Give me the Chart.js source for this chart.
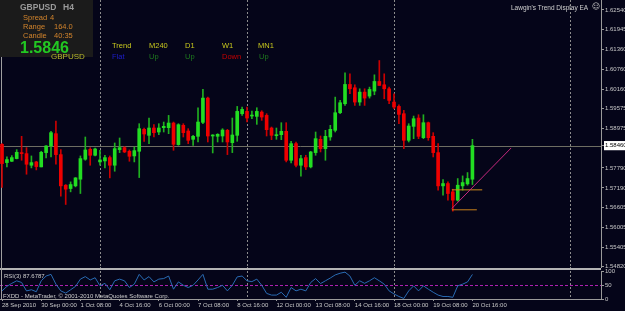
<!DOCTYPE html>
<html>
<head>
<meta charset="utf-8">
<script src="https://cdn.jsdelivr.net/npm/chart.js@4.4.0/dist/chart.umd.min.js"></script>
<style>
  html, body { margin: 0; padding: 0; background: #050519; }
  #wrap { position: relative; width: 625px; height: 311px; overflow: hidden; font-family: "Liberation Sans", Arial, sans-serif; }
  canvas { position: absolute; left: 0; }
  #main { top: 0; }
  #rsi { top: 267px; }
  .t { position: absolute; white-space: pre; line-height: 1; }
  .box { position: absolute; left: 0; top: 0; width: 93px; height: 57px; background: #1b1b1b; }
</style>
</head>
<body>
<div id="wrap">
  <canvas id="main" width="625" height="276"></canvas>
  <canvas id="rsi" width="625" height="44"></canvas>

  <div class="box"></div>
  <div class="t" style="left:20px;top:3px;font-weight:bold;font-size:8.5px;color:#9a9a9a">GBPUSD</div>
  <div class="t" style="left:63px;top:3px;font-weight:bold;font-size:8.5px;color:#9a9a9a">H4</div>
  <div class="t" style="left:23px;top:13.5px;font-size:7.5px;color:#d2842c">Spread</div>
  <div class="t" style="left:50px;top:13.5px;font-size:7.5px;color:#d2842c">4</div>
  <div class="t" style="left:23px;top:23px;font-size:7.5px;color:#d2842c">Range</div>
  <div class="t" style="left:54px;top:23px;font-size:7.5px;color:#d2842c">164.0</div>
  <div class="t" style="left:23px;top:32px;font-size:7.5px;color:#d2842c">Candle</div>
  <div class="t" style="left:54px;top:32px;font-size:7.5px;color:#d2842c">40:35</div>
  <div class="t" style="left:20px;top:39.5px;font-weight:bold;font-size:16px;color:#22c822">1.5846</div>
  <div class="t" style="left:51px;top:52.5px;font-size:8px;color:#b8b82a">GBPUSD</div>

  <div class="t" style="left:112px;top:42px;font-size:7.5px;color:#c8c81e">Trend</div>
  <div class="t" style="left:112px;top:52.5px;font-size:7.5px;color:#1e1ecc">Flat</div>
  <div class="t" style="left:149px;top:42px;font-size:7.5px;color:#c8c81e">M240</div>
  <div class="t" style="left:149px;top:52.5px;font-size:7.5px;color:#1e7a1e">Up</div>
  <div class="t" style="left:185px;top:42px;font-size:7.5px;color:#c8c81e">D1</div>
  <div class="t" style="left:185px;top:52.5px;font-size:7.5px;color:#1e7a1e">Up</div>
  <div class="t" style="left:222px;top:42px;font-size:7.5px;color:#c8c81e">W1</div>
  <div class="t" style="left:222px;top:52.5px;font-size:7.5px;color:#c80000">Down</div>
  <div class="t" style="left:258px;top:42px;font-size:7.5px;color:#c8c81e">MN1</div>
  <div class="t" style="left:259px;top:52.5px;font-size:7.5px;color:#1e7a1e">Up</div>

  <div class="t" style="left:511px;top:4.5px;font-size:6.5px;color:#cfcfcf">Lawgin's Trend Display EA</div>
  <div class="t" style="left:592px;top:3px;font-size:8px;color:#cfcfcf;font-family:'DejaVu Sans'">☺</div>

  <div class="t" style="left:4px;top:272.5px;font-size:6px;color:#cfcfcf">RSI(3) 87.6787</div>
  <div class="t" style="left:3px;top:293px;font-size:6px;color:#cfcfcf">FXDD - MetaTrader, © 2001-2010 MetaQuotes Software Corp.</div>
</div>

<script>
// GBPUSD H4, 28 Sep 16:00 .. 20 Oct 16:00 (bar index 0..96)
const OPEN = [
  1.5850, 1.5795, 1.5799, 1.5807, 1.5825, 1.5822, 1.5787, 1.5797, 1.5782, 1.5825,
  1.5845, 1.5882, 1.5819, 1.5727, 1.5717, 1.5725, 1.5745, 1.5805, 1.5835, 1.5817,
  1.5797, 1.5800, 1.5810, 1.5787, 1.5834, 1.5840, 1.5829, 1.5815, 1.5829, 1.5895,
  1.5877, 1.5899, 1.5887, 1.5900, 1.5900, 1.5914, 1.5849, 1.5907, 1.5890, 1.5865,
  1.5874, 1.5916, 1.5989, 1.5875, 1.5874, 1.5875, 1.5892, 1.5855, 1.5877, 1.5942,
  1.5949, 1.5935, 1.5934, 1.5947, 1.5937, 1.5899, 1.5876, 1.5879, 1.5889, 1.5802,
  1.5852, 1.5787, 1.5810, 1.5782, 1.5825, 1.5865, 1.5837, 1.5872, 1.5892, 1.5945,
  1.5972, 1.6030, 1.6020, 1.5977, 1.6007, 1.5995, 1.6010, 1.6039, 1.6029, 1.6017,
  1.5977, 1.5964, 1.5942, 1.5862, 1.5904, 1.5929, 1.5870, 1.5915, 1.5874, 1.5825,
  1.5725, 1.5732, 1.5707, 1.5682, 1.5725, 1.5731, 1.5745
];
const HIGH = [
  1.5852, 1.5812, 1.5816, 1.5834, 1.5874, 1.5840, 1.5815, 1.5799, 1.5829, 1.5846,
  1.5889, 1.5920, 1.5834, 1.5729, 1.5737, 1.5750, 1.5815, 1.5872, 1.5840, 1.5839,
  1.5832, 1.5817, 1.5815, 1.5854, 1.5869, 1.5843, 1.5833, 1.5842, 1.5912, 1.5899,
  1.5929, 1.5909, 1.5912, 1.5917, 1.5937, 1.5917, 1.5912, 1.5912, 1.5897, 1.5877,
  1.5960, 1.6015, 1.5992, 1.5879, 1.5882, 1.5897, 1.5895, 1.5929, 1.5964, 1.5962,
  1.5962, 1.5950, 1.5960, 1.5951, 1.5942, 1.5902, 1.5899, 1.5915, 1.5915, 1.5859,
  1.5857, 1.5817, 1.5817, 1.5829, 1.5887, 1.5875, 1.5892, 1.5907, 1.5992, 1.5982,
  1.6065, 1.6062, 1.6029, 1.6017, 1.6017, 1.6022, 1.6059, 1.6102, 1.6062, 1.6022,
  1.6002, 1.5969, 1.5952, 1.5912, 1.5935, 1.5939, 1.5939, 1.5917, 1.5885, 1.5852,
  1.5744, 1.5737, 1.5715, 1.5747, 1.5755, 1.5765, 1.5865
];
const LOW = [
  1.5720, 1.5782, 1.5798, 1.5806, 1.5802, 1.5760, 1.5779, 1.5773, 1.5782, 1.5809,
  1.5812, 1.5790, 1.5694, 1.5669, 1.5707, 1.5722, 1.5702, 1.5802, 1.5787, 1.5815,
  1.5787, 1.5779, 1.5749, 1.5769, 1.5825, 1.5825, 1.5799, 1.5797, 1.5750, 1.5859,
  1.5852, 1.5872, 1.5879, 1.5887, 1.5882, 1.5832, 1.5847, 1.5872, 1.5852, 1.5847,
  1.5857, 1.5912, 1.5857, 1.5824, 1.5857, 1.5857, 1.5819, 1.5825, 1.5859, 1.5937,
  1.5917, 1.5927, 1.5910, 1.5922, 1.5875, 1.5864, 1.5865, 1.5864, 1.5797, 1.5794,
  1.5782, 1.5754, 1.5774, 1.5779, 1.5817, 1.5827, 1.5802, 1.5862, 1.5887, 1.5942,
  1.5967, 1.6002, 1.5967, 1.5967, 1.5967, 1.5989, 1.5999, 1.6027, 1.5987, 1.5972,
  1.5957, 1.5912, 1.5837, 1.5857, 1.5867, 1.5867, 1.5867, 1.5862, 1.5812, 1.5712,
  1.5697, 1.5682, 1.5649, 1.5679, 1.5712, 1.5727, 1.5729
];
const CLOSE = [
  1.5792, 1.5804, 1.5810, 1.5826, 1.5822, 1.5790, 1.5795, 1.5783, 1.5826, 1.5845,
  1.5885, 1.5819, 1.5725, 1.5715, 1.5729, 1.5749, 1.5807, 1.5833, 1.5817, 1.5836,
  1.5803, 1.5810, 1.5787, 1.5837, 1.5840, 1.5827, 1.5814, 1.5831, 1.5897, 1.5881,
  1.5899, 1.5885, 1.5899, 1.5904, 1.5914, 1.5850, 1.5909, 1.5885, 1.5862, 1.5874,
  1.5917, 1.5989, 1.5875, 1.5876, 1.5880, 1.5893, 1.5857, 1.5878, 1.5949, 1.5955,
  1.5929, 1.5936, 1.5949, 1.5932, 1.5894, 1.5877, 1.5878, 1.5889, 1.5802, 1.5852,
  1.5787, 1.5807, 1.5782, 1.5827, 1.5867, 1.5837, 1.5874, 1.5895, 1.5945, 1.5975,
  1.6030, 1.6017, 1.5977, 1.6007, 1.5989, 1.6015, 1.6039, 1.6027, 1.6017, 1.5982,
  1.5962, 1.5940, 1.5862, 1.5905, 1.5927, 1.5874, 1.5915, 1.5870, 1.5825, 1.5725,
  1.5732, 1.5702, 1.5682, 1.5727, 1.5735, 1.5747, 1.5846
];
const RSI = [
  29, 45, 56, 65, 59, 29, 33, 26, 65, 82,
  88, 53, 29, 21, 33, 45, 71, 80, 68, 76,
  47, 56, 33, 65, 71, 65, 41, 53, 88, 68,
  80, 61, 71, 73, 82, 35, 61, 49, 41, 49,
  68, 88, 35, 35, 41, 49, 29, 49, 79, 82,
  65, 62, 71, 49, 20, 14, 14, 24, 6, 41,
  29, 35, 29, 59, 73, 55, 65, 75, 86, 92,
  96, 82, 49, 65, 56, 65, 76, 65, 53, 29,
  18, 9, 2, 29, 47, 29, 47, 35, 24, 14,
  9, 9, 6, 47, 53, 61, 87.68
];

// time labels every 8 bars, starting at bar 0
const TIME_LABELS = ['28 Sep 2010', '30 Sep 00:00', '1 Oct 08:00', '4 Oct 16:00', '6 Oct 00:00',
  '7 Oct 08:00', '8 Oct 16:00', '12 Oct 00:00', '13 Oct 08:00', '14 Oct 16:00',
  '18 Oct 00:00', '19 Oct 08:00', '20 Oct 16:00'];
const PRICE_TICKS = [1.62540, 1.61945, 1.61360, 1.60760, 1.60160, 1.59575, 1.58975, 1.58460,
  1.57790, 1.57190, 1.56605, 1.56005, 1.55405, 1.54820];
const RSI_TICKS = [0, 50, 100];
const LAST_PRICE = 1.5846;
const RSI_LEVEL = 50;
// week separators (bar index)
const SEPARATORS = [20, 50, 80, 116];

// drawn objects: [bar index, price]
const TRENDLINE = [[91.8, 1.5657], [103.9, 1.5839]];
const LEVEL_UPPER = [[91.8, 1.5713], [98.0, 1.5713]];
const LEVEL_LOWER = [[91.8, 1.5653], [96.9, 1.5653]];

const XMIN = -0.41;
const XMAX = 122.24;

const UP = '#22dd22';
const DOWN = '#ee0000';
const UP_WICK = '#20b020';
const DOWN_WICK = '#cc0000';
const AXIS = '#9a9a9a';
const LABEL = '#c8c8c8';
const FONT = 'Liberation Sans';

const isUp = i => CLOSE[i] >= OPEN[i];
const toPoints = arr => arr.map(p => ({ x: p[0], y: p[1] }));

function drawSeparators(chart, top, bottom) {
    const ctx = chart.ctx;
    ctx.save();
    ctx.strokeStyle = '#8c8c8c';
    ctx.lineWidth = 1;
    ctx.setLineDash([2, 2]);
    SEPARATORS.forEach(i => {
        const x = Math.round(chart.scales.x.getPixelForValue(i)) + 0.5;
        ctx.beginPath();
        ctx.moveTo(x, top);
        ctx.lineTo(x, bottom);
        ctx.stroke();
    });
    ctx.restore();
}

const mainDecor = {
    id: 'mainDecor',
    beforeDatasetsDraw(chart) {
        const { ctx, chartArea: a } = chart;
        drawSeparators(chart, a.top, a.bottom);

        // bid line
        const y = Math.round(chart.scales.y.getPixelForValue(LAST_PRICE)) + 0.5;
        ctx.save();
        ctx.strokeStyle = '#6e6e62';
        ctx.lineWidth = 1;
        ctx.beginPath();
        ctx.moveTo(a.left, y);
        ctx.lineTo(a.right, y);
        ctx.stroke();

        // left border
        ctx.strokeStyle = '#a0a0a0';
        ctx.beginPath();
        ctx.moveTo(1.5, a.top);
        ctx.lineTo(1.5, a.bottom);
        ctx.stroke();
        ctx.restore();
    }
};

const rsiDecor = {
    id: 'rsiDecor',
    beforeDatasetsDraw(chart) {
        const { ctx, chartArea: a } = chart;
        drawSeparators(chart, 0, a.bottom);

        const y = Math.round(chart.scales.y.getPixelForValue(RSI_LEVEL)) + 0.5;
        ctx.save();
        ctx.strokeStyle = '#b020b0';
        ctx.lineWidth = 1;
        ctx.setLineDash([3, 2]);
        ctx.beginPath();
        ctx.moveTo(a.left, y);
        ctx.lineTo(a.right, y);
        ctx.stroke();
        ctx.setLineDash([]);

        // panel border
        ctx.fillStyle = '#b4b4b4';
        ctx.fillRect(0, 1, a.right, 2);
        ctx.strokeStyle = '#a0a0a0';
        ctx.beginPath();
        ctx.moveTo(1.5, 0);
        ctx.lineTo(1.5, a.bottom);
        ctx.stroke();
        ctx.restore();
    }
};

function noPad(scale) {
    scale.paddingTop = 0;
    scale.paddingBottom = 0;
    scale.paddingLeft = 0;
    scale.paddingRight = 0;
}

Chart.defaults.font.family = FONT;

new Chart(document.getElementById('main'), {
    type: 'bar',
    data: {
        datasets: [
            {
                type: 'line',
                data: toPoints(TRENDLINE),
                borderColor: '#c8287f',
                borderWidth: 1,
                pointRadius: 0
            },
            {
                type: 'line',
                data: toPoints(LEVEL_UPPER),
                borderColor: '#d08a1a',
                borderWidth: 1,
                pointRadius: 0
            },
            {
                type: 'line',
                data: toPoints(LEVEL_LOWER),
                borderColor: '#c8801a',
                borderWidth: 1,
                pointRadius: 0
            },
            {
                label: 'body',
                data: OPEN.map((o, i) => ({ x: i, y: [o, CLOSE[i]] })),
                backgroundColor: c => isUp(c.dataIndex) ? UP : DOWN,
                barThickness: 3,
                minBarLength: 1,
                grouped: false,
                borderWidth: 0
            },
            {
                label: 'wick',
                data: LOW.map((l, i) => ({ x: i, y: [l, HIGH[i]] })),
                backgroundColor: c => isUp(c.dataIndex) ? UP_WICK : DOWN_WICK,
                barThickness: 1,
                grouped: false,
                borderWidth: 0
            }
        ]
    },
    options: {
        responsive: false,
        animation: false,
        events: [],
        layout: { padding: { top: 0, left: 0, right: 0, bottom: 9 } },
        plugins: { legend: { display: false }, tooltip: { enabled: false } },
        scales: {
            x: { type: 'linear', min: XMIN, max: XMAX, offset: false, display: false },
            y: {
                position: 'right',
                min: 1.5481,
                max: 1.6284,
                afterBuildTicks: s => { s.ticks = PRICE_TICKS.map(v => ({ value: v })); },
                afterFit: s => { s.width = 24; noPad(s); },
                ticks: {
                    autoSkip: false,
                    padding: 1,
                    font: { size: 6 },
                    color: c => c.tick && c.tick.value === LAST_PRICE ? '#000000' : LABEL,
                    showLabelBackdrop: c => !!(c.tick && c.tick.value === LAST_PRICE),
                    backdropColor: '#ffffff',
                    backdropPadding: 1,
                    callback: v => v.toFixed(5)
                },
                grid: { drawOnChartArea: false, tickLength: 3, color: AXIS },
                border: { color: AXIS }
            }
        }
    },
    plugins: [mainDecor]
});

new Chart(document.getElementById('rsi'), {
    type: 'line',
    data: {
        datasets: [{
            data: RSI.map((v, i) => ({ x: i, y: v })),
            borderColor: '#2a6cb4',
            borderWidth: 1,
            pointRadius: 0,
            tension: 0
        }]
    },
    options: {
        responsive: false,
        animation: false,
        events: [],
        layout: { padding: { top: 4, left: 0, right: 0, bottom: 0 } },
        plugins: { legend: { display: false }, tooltip: { enabled: false } },
        scales: {
            x: {
                type: 'linear',
                min: XMIN,
                max: XMAX,
                offset: false,
                afterBuildTicks: s => { s.ticks = TIME_LABELS.map((_, k) => ({ value: k * 8 })); },
                afterFit: s => { s.height = 12; noPad(s); },
                ticks: {
                    autoSkip: false,
                    maxRotation: 0,
                    minRotation: 0,
                    align: 'start',
                    padding: 1,
                    font: { size: 6 },
                    color: LABEL,
                    callback: (v, idx) => TIME_LABELS[idx]
                },
                grid: { drawOnChartArea: false, tickLength: 2, color: AXIS },
                border: { color: AXIS }
            },
            y: {
                position: 'right',
                min: 0,
                max: 100,
                afterBuildTicks: s => { s.ticks = RSI_TICKS.map(v => ({ value: v })); },
                afterFit: s => { s.width = 24; noPad(s); },
                ticks: { autoSkip: false, padding: 1, font: { size: 6 }, color: LABEL },
                grid: { drawOnChartArea: false, tickLength: 3, color: AXIS },
                border: { color: AXIS }
            }
        }
    },
    plugins: [rsiDecor]
});
</script>
</body>
</html>
